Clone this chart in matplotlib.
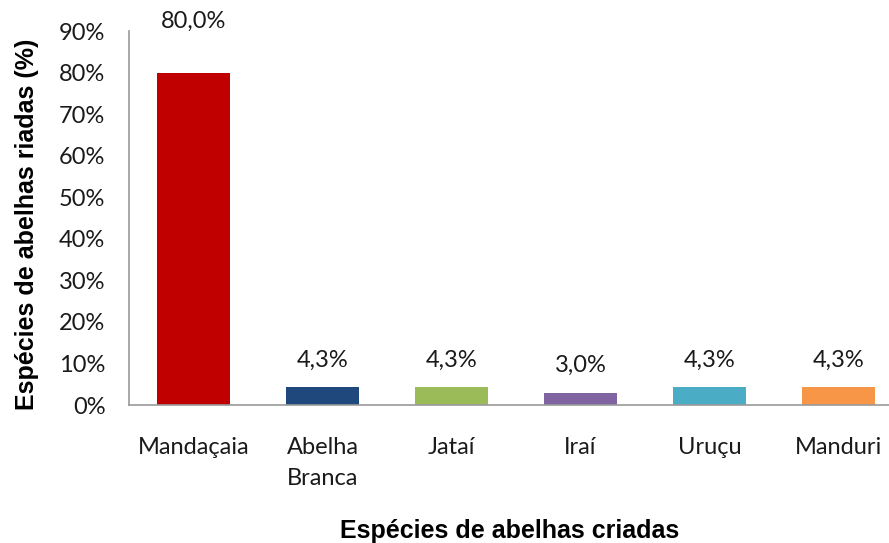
import numpy as np
import matplotlib
matplotlib.use("Agg")
import matplotlib.pyplot as plt

plt.rcParams['font.family'] = ['Lato', 'DejaVu Sans']

species = ["Mandaçaia", "Abelha\nBranca", "Jataí", "Iraí", "Uruçu", "Manduri"]
values = [80.0, 4.3, 4.3, 3.0, 4.3, 4.3]
labels = ["80,0%", "4,3%", "4,3%", "3,0%", "4,3%", "4,3%"]
colors = ["#C00000", "#1F497D", "#9BBB59", "#8064A2", "#4BACC6", "#F79646"]

txt = "#1a1a1a"

fig = plt.figure(figsize=(8.89, 5.43), dpi=100)
ax = fig.add_axes([129 / 889, 1 - 405 / 543, 774 / 889, 374 / 543])

x = np.arange(len(species))
bars = ax.bar(x, values, width=0.57, color=colors)

for xi, v, lab in zip(x, values, labels):
    off = 29 if v == max(values) else 12
    ax.annotate(lab, xy=(xi, v), xytext=(0, off), textcoords="offset points",
                ha="center", va="bottom", fontsize=17, color=txt,
                annotation_clip=False)

ax.set_xlim(-0.5, len(species) - 0.5)
ax.set_ylim(0, 90)
ax.set_yticks(np.arange(0, 91, 10))
ax.set_yticklabels(["{}%".format(t) for t in range(0, 91, 10)])
ax.set_xticks(x)
ax.set_xticklabels(species, linespacing=1.6)

ax.tick_params(axis="y", length=0, pad=17, labelsize=17, labelcolor=txt)
ax.tick_params(axis="x", length=0, pad=23, labelsize=17, labelcolor=txt)

for s in ["top", "right"]:
    ax.spines[s].set_visible(False)
ax.spines["left"].set_color("#999999")
ax.spines["bottom"].set_color("#999999")
ax.spines["left"].set_linewidth(1.2)
ax.spines["bottom"].set_linewidth(1.2)

ax.set_xlabel("Espécies de abelhas criadas", fontsize=18, fontweight="bold",
              family="Liberation Sans", color="black")
ax.xaxis.set_label_coords((510 - 129) / 774, -(519 - 405) / 374)
ax.set_ylabel("Espécies de abelhas riadas (%)", fontsize=18, fontweight="bold",
              family="Liberation Sans", color="black")
ax.yaxis.set_label_coords(-(129 - 39) / 774, (405 - 224) / 374)

fig.savefig("out.png", dpi=100)
